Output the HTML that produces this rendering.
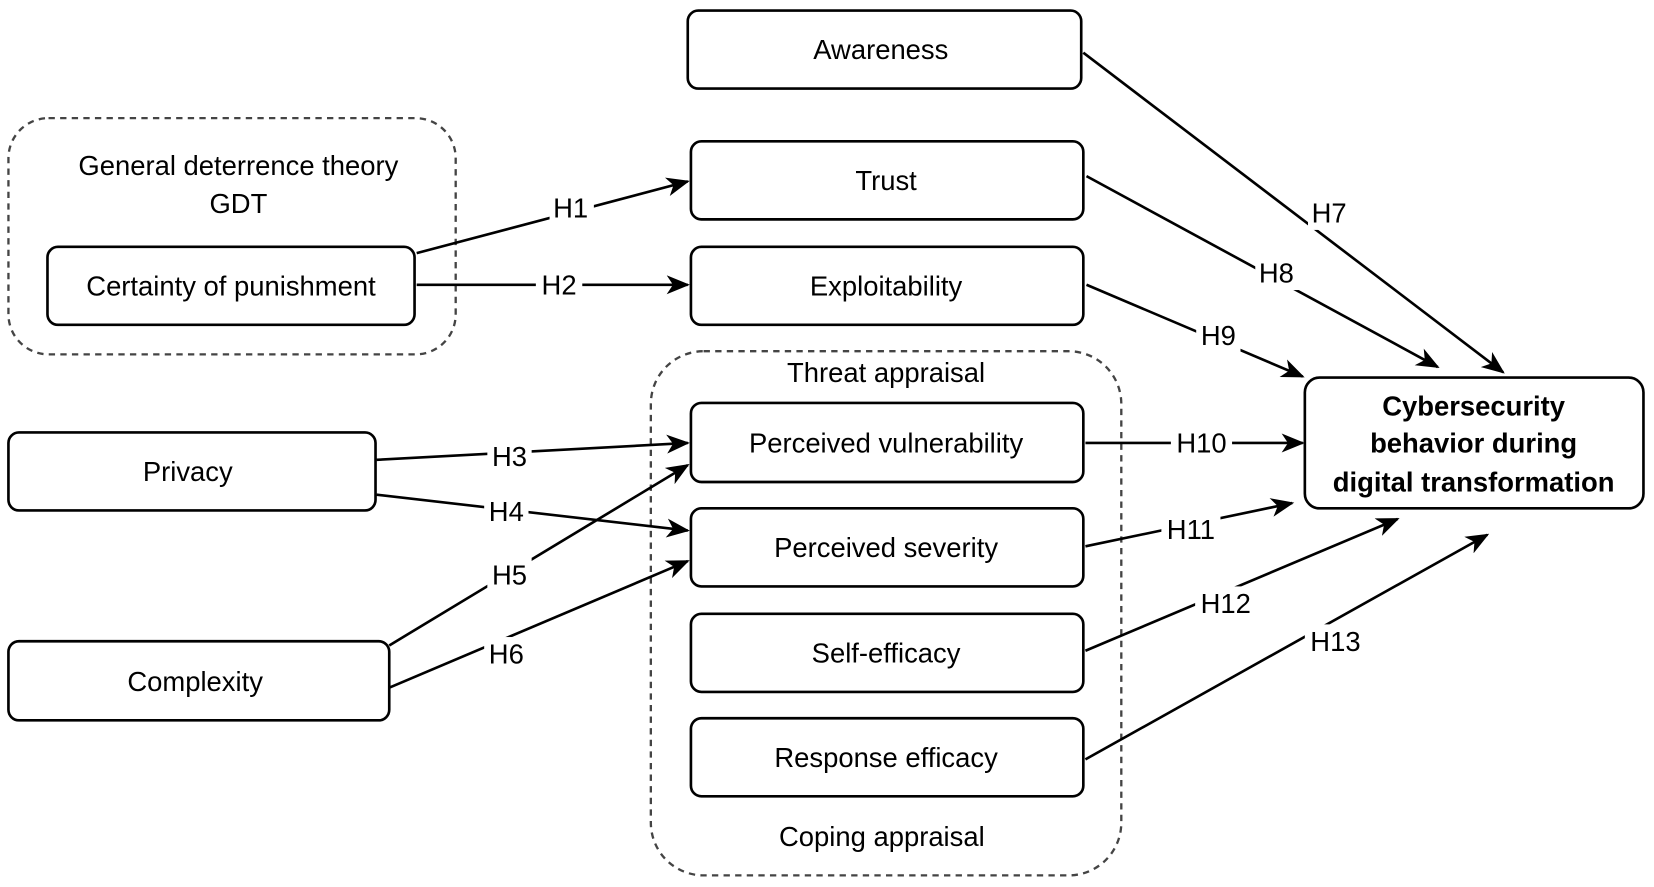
<!DOCTYPE html>
<html><head><style>html,body{margin:0;padding:0;background:#fff}svg{display:block}</style></head><body>
<svg width="1654" height="887" viewBox="0 0 1568 841" preserveAspectRatio="none" xmlns="http://www.w3.org/2000/svg" font-family="Liberation Sans, sans-serif" font-size="26">
<defs><marker id="a" markerWidth="10" markerHeight="10" refX="9" refY="5" orient="auto" markerUnits="userSpaceOnUse" viewBox="0 0 10 10"><path d="M0,0 L10,5 L0,10 L3,5z" fill="#000"/></marker>
<marker id="b" markerWidth="22" markerHeight="18" refX="20" refY="9" orient="auto" markerUnits="userSpaceOnUse"><path d="M0,0 L22,9 L0,18 L6,9z" fill="#000"/></marker></defs>
<g fill="none" stroke="#444" stroke-width="2.2" stroke-dasharray="6,5">
<rect x="8" y="112" width="424" height="224" rx="38"/>
<rect x="617" y="333" width="446" height="497" rx="50"/>
</g>
<g fill="#fff" stroke="#000" stroke-width="2.5">
<rect x="652" y="10" width="373" height="74" rx="10"/>
<rect x="655" y="134" width="372" height="74" rx="10"/>
<rect x="655" y="234" width="372" height="74" rx="10"/>
<rect x="45" y="234" width="348" height="74" rx="10"/>
<rect x="655" y="382" width="372" height="75" rx="10"/>
<rect x="655" y="482" width="372" height="74" rx="10"/>
<rect x="655" y="582" width="372" height="74" rx="10"/>
<rect x="655" y="681" width="372" height="74" rx="10"/>
<rect x="8" y="410" width="348" height="74" rx="10"/>
<rect x="8" y="608" width="361" height="75" rx="10"/>
<rect x="1237" y="358" width="321" height="124" rx="14"/>
</g>
<g stroke="#000" stroke-width="2.5" marker-end="url(#b)">
<line x1="395" y1="240" x2="652" y2="172"/>
<line x1="395" y1="270" x2="652" y2="270"/>
<line x1="357" y1="436" x2="652" y2="420"/>
<line x1="357" y1="469" x2="652" y2="503"/>
<line x1="369" y1="612" x2="652" y2="441"/>
<line x1="369" y1="652" x2="652" y2="532"/>
<line x1="1027" y1="50" x2="1425" y2="353"/>
<line x1="1030" y1="167" x2="1363" y2="348"/>
<line x1="1030" y1="270" x2="1235" y2="357"/>
<line x1="1029" y1="420" x2="1235" y2="420"/>
<line x1="1029" y1="518" x2="1225" y2="477"/>
<line x1="1029" y1="617" x2="1325" y2="492"/>
<line x1="1029" y1="720" x2="1410" y2="507"/>
</g>
<g text-anchor="middle" dominant-baseline="central" fill="#000">
<text x="835" y="47">Awareness</text>
<text x="840" y="171">Trust</text>
<text x="840" y="271">Exploitability</text>
<text x="219" y="271">Certainty of punishment</text>
<text x="226" y="157">General deterrence theory</text>
<text x="226" y="193">GDT</text>
<text x="840" y="353">Threat appraisal</text>
<text x="836" y="793">Coping appraisal</text>
<text x="840" y="420">Perceived vulnerability</text>
<text x="840" y="519">Perceived severity</text>
<text x="840" y="619">Self-efficacy</text>
<text x="840" y="718">Response efficacy</text>
<text x="178" y="447">Privacy</text>
<text x="185" y="646">Complexity</text>
<g font-weight="bold"><text x="1397" y="385">Cybersecurity</text><text x="1397" y="420">behavior during</text><text x="1397" y="457">digital transformation</text></g>
</g>
<g text-anchor="middle" dominant-baseline="central" fill="#000">
<g fill="#fff"><rect x="521" y="181" width="42" height="32"/><rect x="508" y="254" width="44" height="32"/><rect x="462" y="417" width="42" height="32"/><rect x="459" y="469" width="42" height="32"/><rect x="462" y="529" width="42" height="32"/><rect x="459" y="604" width="42" height="32"/><rect x="1240" y="186" width="42" height="32"/><rect x="1190" y="243" width="42" height="32"/><rect x="1134" y="302" width="42" height="32"/><rect x="1110" y="404" width="58" height="32"/><rect x="1101" y="486" width="56" height="32"/><rect x="1133" y="556" width="58" height="32"/><rect x="1237" y="592" width="58" height="32"/></g>
<text x="541" y="197">H1</text><text x="530" y="270">H2</text><text x="483" y="433">H3</text><text x="480" y="485">H4</text><text x="483" y="545">H5</text><text x="480" y="620">H6</text><text x="1260" y="202">H7</text><text x="1210" y="259">H8</text><text x="1155" y="318">H9</text><text x="1139" y="420">H10</text><text x="1129" y="502">H11</text><text x="1162" y="572">H12</text><text x="1266" y="608">H13</text>
</g>
</svg>
</body></html>
